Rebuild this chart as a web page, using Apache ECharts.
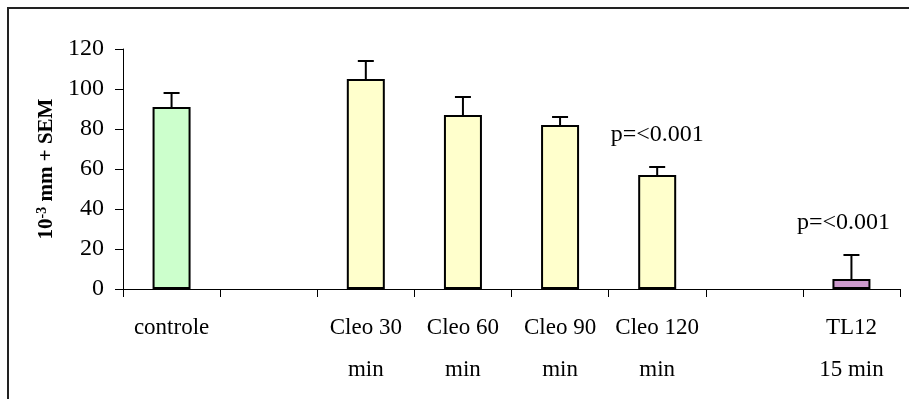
<!DOCTYPE html>
<html>
<head>
<meta charset="utf-8">
<script src="https://cdn.jsdelivr.net/npm/echarts@6/dist/echarts.min.js"></script>
<style>html,body{margin:0;padding:0;background:#fff}#c{width:909px;height:399px}</style>
</head>
<body>
<div id="c"></div>
<script>
const categories = ['controle', '', 'Cleo 30\nmin', 'Cleo 60\nmin', 'Cleo 90\nmin', 'Cleo 120\nmin', '', 'TL12\n15 min'];
const means = [91, null, 105, 87, 82, 57, null, 5];
const sem = [7, null, 9, 9, 4, 4, null, 12];
const barColors = ['#CCFFCC', null, '#FFFFCC', '#FFFFCC', '#FFFFCC', '#FFFFCC', null, '#CC99CC'];
const pLabels = ['', '', '', '', '', 'p=<0.001', '', 'p=<0.001'];
const yTicks = [0, 20, 40, 60, 80, 100, 120];

const FONT = 'Liberation Serif';
const chart = echarts.init(document.getElementById('c'), null, {renderer: 'canvas'});

const errData = means.map((m, i) => m == null ? [i, null, null] : [i, m, m + sem[i]]);
const pData = pLabels.map((t, i) => [i, means[i] == null ? 0 : means[i] + sem[i], t]);

chart.setOption({
  animation: false,
  backgroundColor: '#fff',
  graphic: [{
    type: 'rect', shape: {x: 8, y: 8, width: 1000, height: 1000},
    style: {fill: 'none', stroke: '#222', lineWidth: 2}, silent: true
  }],
  grid: {left: 123, right: 9, top: 49, bottom: 110},
  xAxis: {
    type: 'category',
    data: categories,
    boundaryGap: true,
    axisLine: {lineStyle: {color: '#000', width: 1}},
    axisTick: {show: true, length: 8, inside: false, lineStyle: {color: '#000'}},
    axisLabel: {fontFamily: FONT, fontSize: 23, color: '#000', lineHeight: 42, margin: 18, interval: 0}
  },
  yAxis: {
    type: 'value',
    min: yTicks[0], max: yTicks[yTicks.length - 1], interval: 20,
    splitLine: {show: false},
    axisLine: {show: true, lineStyle: {color: '#000', width: 1}},
    axisTick: {show: true, length: 8, lineStyle: {color: '#000'}},
    axisLabel: {fontFamily: FONT, fontSize: 24, color: '#000', margin: 19},
    name: '{a|10}{s|-3}{a| mm + SEM}',
    nameLocation: 'middle',
    nameRotate: 90,
    nameGap: 64,
    nameTextStyle: {
      rich: {
        a: {fontFamily: FONT, fontSize: 21, fontWeight: 'bold', color: '#000'},
        s: {fontFamily: FONT, fontSize: 14, fontWeight: 'bold', color: '#000', padding: [0, 0, 9, 0]}
      }
    }
  },
  series: [{
    type: 'bar',
    barWidth: 38,
    data: means.map((v, i) => ({value: v, itemStyle: {color: barColors[i] || '#fff'}})),
    itemStyle: {borderColor: '#000', borderWidth: 2},
    z: 2
  }, {
    type: 'custom',
    data: errData,
    z: 1,
    renderItem: function (params, api) {
      const lo = api.value(1), hi = api.value(2);
      if (lo == null || isNaN(lo)) return null;
      const p0 = api.coord([api.value(0), lo]);
      const p1 = api.coord([api.value(0), hi]);
      const hw = 8;
      return {
        type: 'group',
        children: [
          {type: 'line', shape: {x1: p0[0], y1: p0[1], x2: p1[0], y2: p1[1]}, style: {stroke: '#000', lineWidth: 2}},
          {type: 'line', shape: {x1: p1[0] - hw, y1: p1[1], x2: p1[0] + hw, y2: p1[1]}, style: {stroke: '#000', lineWidth: 2}}
        ]
      };
    }
  }, {
    type: 'custom',
    data: pData,
    z: 3,
    renderItem: function (params, api) {
      const txt = pLabels[params.dataIndex];
      if (!txt) return null;
      const p = api.coord([api.value(0), api.value(1)]);
      const last = params.dataIndex === categories.length - 1;
      return {
        type: 'text',
        style: {
          text: txt, x: p[0] - (last ? 8 : 0), y: p[1] - 32,
          align: 'center', verticalAlign: 'middle',
          font: '24px "' + FONT + '"', fill: '#000'
        }
      };
    }
  }]
});
</script>
</body>
</html>
